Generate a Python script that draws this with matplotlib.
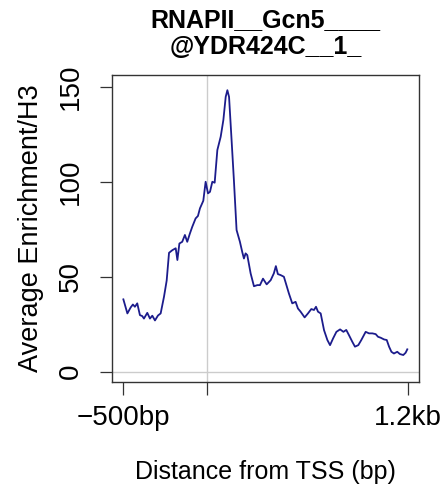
import matplotlib
matplotlib.use("Agg")
import matplotlib.pyplot as plt

plt.rcParams['font.family'] = ['Liberation Sans', 'DejaVu Sans']

# average profile around TSS (bp vs enrichment)
dist = [-500, -476, -456, -443, -431, -417, -401, -387, -377, -357, -341, -327,
        -311, -293, -277, -257, -241, -227, -207, -187, -177, -165, -148, -132,
        -118, -102, -88, -68, -54, -42, -22, -8, 6, 18, 32, 46, 62, 82, 98,
        112, 122, 132, 146, 161, 177, 197, 211, 221, 231, 241, 261, 281, 301,
        317, 335, 357, 381, 400, 412, 424, 440, 460, 472, 490, 510, 530, 544,
        560, 584, 604, 624, 640, 652, 664, 680, 700, 720, 736, 754, 774, 796,
        816, 833, 849, 869, 885, 905, 923, 949, 969, 989, 1009, 1023, 1039,
        1059, 1075, 1089, 1103, 1118, 1138, 1154, 1174, 1188, 1198]
enrich = [38.1, 30.7, 33.9, 35.4, 34.2, 36.0, 29.8, 29.3, 28.0, 31.0, 28.0, 29.5,
          27.0, 29.6, 30.7, 39.5, 48.0, 62.6, 64.0, 65.0, 58.8, 67.5, 68.4, 72.0,
          68.4, 72.8, 76.3, 80.7, 82.0, 86.0, 90.0, 100.0, 93.9, 94.7, 100.0, 99.5,
          116.7, 123.7, 132.5, 144.7, 148.2, 144.7, 123.7, 100.9, 74.6, 68.4, 63.0,
          59.6, 62.3, 61.4, 51.8, 45.0, 45.6, 45.6, 49.0, 46.0, 48.2, 51.8, 55.6,
          51.4, 50.9, 50.0, 46.5, 41.2, 36.0, 36.8, 33.3, 31.6, 28.6, 30.7, 33.0,
          32.5, 34.2, 31.6, 30.7, 21.9, 16.7, 14.0, 17.5, 21.0, 22.3, 21.0, 22.0,
          19.3, 15.8, 13.2, 14.0, 16.7, 21.0, 20.2, 20.2, 19.8, 18.4, 17.9, 17.0,
          16.7, 13.2, 10.5, 9.6, 10.5, 9.3, 8.8, 10.0, 11.8]

xticks = [-500, 0, 1200]
xticklabels = ['\u2212500bp', '', '1.2kb']
yticks = [0, 50, 100, 150]

fig = plt.figure(figsize=(4.44, 4.91), dpi=100)
ax = fig.add_axes([112/444, 109/491, 307/444, 307/491])

ax.axvline(0, color='#cccccc', lw=1.0, zorder=1)
ax.axhline(0, color='#cccccc', lw=1.0, zorder=1)
ax.plot(dist, enrich, color='#1c1c8c', lw=1.3, zorder=2)

ax.set_xlim(-568, 1268)
ax.set_ylim(-5.4, 156.2)
ax.set_xticks(xticks)
ax.set_xticklabels(xticklabels)
ax.set_yticks(yticks)
ax.set_yticklabels([str(v) for v in yticks], rotation=90, va='center')
ax.tick_params(axis='both', length=9, width=0.9, color='#333333', labelsize=20)
ax.tick_params(axis='x', pad=7.5)
ax.tick_params(axis='y', pad=11)
for s in ax.spines.values():
    s.set_linewidth(1.0)
    s.set_color('#333333')

ax.set_xlabel('Distance from TSS (bp)', fontsize=18, labelpad=21)
ax.set_ylabel('Average Enrichment/H3', fontsize=19.5, labelpad=10)

fig.text(265.5/444, 1 - 33.5/491, 'RNAPII__Gcn5____\n@YDR424C__1_',
         ha='center', va='center', fontsize=18, fontweight='bold',
         linespacing=1.12)

fig.savefig('out.png', dpi=100)
